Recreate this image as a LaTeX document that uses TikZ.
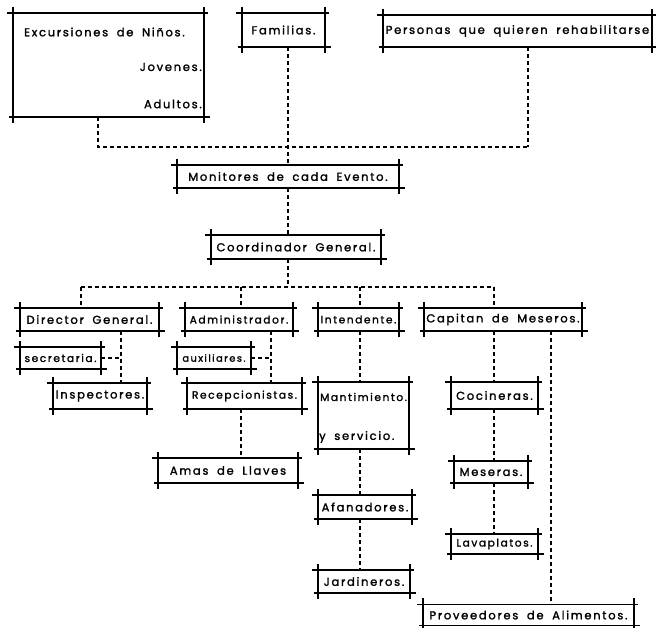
\documentclass[tikz,border=0pt]{standalone}
\usepackage{fontspec}
\setmainfont{Poppins}[LetterSpace=15,WordSpace=1.8,FakeBold=1.6]
\begin{document}
\begin{tikzpicture}[x=1pt,y=-1pt,
  bx/.style={rectangle,inner sep=0pt,font=\fontsize{11.5}{13}\selectfont},
  nar/.style={font=\fontsize{10.6}{12}\selectfont},
  boxl/.style={line width=1.5pt},
  conn/.style={line width=1.2pt,dash pattern=on 4pt off 3pt},
  txt/.style={inner sep=0pt,font=\fontsize{11.5}{13}\selectfont}]
\useasboundingbox (0,0) rectangle (656,627);
\newcommand\fbx[1]{\draw[boxl] ([xshift=-6pt]#1.north west) -- ([xshift=4pt]#1.north east)
  ([xshift=-4pt]#1.south west) -- ([xshift=6pt]#1.south east)
  ([yshift=6pt]#1.north west) -- ([yshift=-6pt]#1.south west)
  ([yshift=6pt]#1.north east) -- ([yshift=-6pt]#1.south east);}
% boxes
\node[bx,minimum width=191pt,minimum height=104pt] (exc) at (108.5,65) {};
\node[txt,anchor=west] (excT) at (24,32) {Excursiones de Niños.};
\node[txt,anchor=east] (jov) at (202,67) {Jovenes.};
\node[txt,anchor=east] (adu) at (202,104) {Adultos.};
\node[bx,minimum width=83pt,minimum height=34pt] (fam) at (283.5,30) {Familias.};
\node[bx,minimum width=269pt,minimum height=32pt] (per) at (517.5,31) {Personas que quieren rehabilitarse};
\node[bx,minimum width=222pt,minimum height=23pt] (mon) at (288,176.5) {Monitores de cada Evento.};
\node[bx,minimum width=170pt,minimum height=24pt] (coo) at (296,247) {Coordinador General.};
\node[bx,minimum width=139pt,minimum height=23pt] (dir) at (89.5,319.5) {Director General.};
\node[bx,nar,minimum width=108pt,minimum height=23pt] (adm) at (239,319.5) {Administrador.};
\node[bx,nar,minimum width=81pt,minimum height=23pt] (int) at (358.5,319.5) {Intendente.};
\node[bx,minimum width=158pt,minimum height=23pt] (cap) at (503,319.5) {Capitan de Meseros.};
\node[bx,nar,minimum width=81pt,minimum height=22pt] (sec) at (60.5,358) {secretaria.};
\node[bx,nar,minimum width=74pt,minimum height=22pt,font=\fontsize{9.8}{12}\selectfont] (aux) at (214,358) {auxiliares.};
\node[bx,minimum width=94pt,minimum height=26pt] (ins) at (100,396) {Inspectores.};
\node[bx,nar,minimum width=115pt,minimum height=26pt] (rec) at (244.5,396) {Recepcionistas.};
\node[bx,minimum width=140pt,minimum height=25pt] (ama) at (228,470.5) {Amas de Llaves};
\node[bx,minimum width=91pt,minimum height=67pt] (man) at (363.5,415.5) {};
\node[txt,nar,anchor=west] (manA) at (320,397) {Mantimiento.};
\node[txt,anchor=west] (manB) at (319,437) {y servicio.};
\node[bx,minimum width=94pt,minimum height=24pt] (afa) at (365,507) {Afanadores.};
\node[bx,minimum width=92pt,minimum height=23pt] (jar) at (364,581.5) {Jardineros.};
\node[bx,minimum width=87pt,minimum height=27pt] (coc) at (494.5,395.5) {Cocineras.};
\node[bx,minimum width=74pt,minimum height=22pt] (mes) at (491,472) {Meseras.};
\node[bx,nar,minimum width=87pt,minimum height=20pt] (lav) at (494.5,544) {Lavaplatos.};
\node[bx,minimum width=211pt,minimum height=21pt] (pro) at (528.5,615) {Proveedores de Alimentos.};
\foreach \n in {exc,fam,per,mon,coo,dir,adm,int,cap,sec,aux,ins,rec,ama,man,afa,jar,coc,mes,lav,pro} {\fbx{\n}}
% junction coordinates
\coordinate (j1) at (98,147);
\coordinate (j2) at (528,147);
\coordinate (bL) at (81,287);
\coordinate (bA) at (241,287);
\coordinate (bI) at (360,287);
\coordinate (bR) at (494,287);
\coordinate (dcol) at (121,358);
\coordinate (acol) at (271,358);
% connectors
\draw[conn] (exc.south -| j1) -- (j1) -- (j2);
\draw[conn] (per.south -| j2) -- (j2);
\draw[conn] (fam.south -| mon.north) -- (mon.north);
\draw[conn] (mon.south) -- (mon.south |- coo.north);
\draw[conn] (mon.south |- coo.south) -- (mon.south |- bR) ;
\draw[conn] (bL) -- (bR);
\draw[conn] (bL) -- (bL |- dir.north);
\draw[conn] (bA) -- (bA |- adm.north);
\draw[conn] (bI) -- (bI |- int.north);
\draw[conn] (bR) -- (bR |- cap.north);
\draw[conn] (dir.south -| dcol) -- (ins.north -| dcol);
\draw[conn] (sec.east) -- (dcol);
\draw[conn] (adm.south -| acol) -- (rec.north -| acol);
\draw[conn] (aux.east) -- (acol);
\draw[conn] (rec.south -| bA) -- (ama.north -| bA);
\draw[conn] (int.south -| bI) -- (man.north -| bI);
\draw[conn] (man.south -| bI) -- (afa.north -| bI);
\draw[conn] (afa.south -| bI) -- (jar.north -| bI);
\draw[conn] (cap.south -| bR) -- (coc.north -| bR);
\draw[conn] (coc.south -| bR) -- (mes.north -| bR);
\draw[conn] (mes.south -| bR) -- (lav.north -| bR);
\draw[conn] (cap.south -| 551,0) -- (pro.north -| 551,0);
\end{tikzpicture}
\end{document}
